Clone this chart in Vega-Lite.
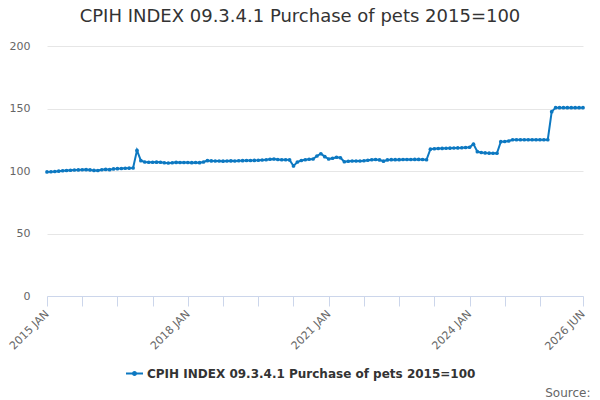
{
  "$schema": "https://vega.github.io/schema/vega-lite/v6.json",
  "width": 536,
  "height": 250,
  "autosize": {"type": "none"},
  "padding": {"left": 47, "top": 46, "right": 17, "bottom": 104},
  "background": "white",
  "title": {
    "text": "CPIH INDEX 09.3.4.1 Purchase of pets 2015=100",
    "font": "DejaVu Sans",
    "fontSize": 18,
    "fontWeight": "normal",
    "color": "#333333",
    "anchor": "middle",
    "dx": -15,
    "offset": 14
  },
  "data": {
    "values": [
      {"month": "2015 JAN", "value": 99.3}, {"month": "2015 FEB", "value": 99.4}, {"month": "2015 MAR", "value": 99.6},
      {"month": "2015 APR", "value": 99.9}, {"month": "2015 MAY", "value": 100.2}, {"month": "2015 JUN", "value": 100.4},
      {"month": "2015 JUL", "value": 100.6}, {"month": "2015 AUG", "value": 100.8}, {"month": "2015 SEP", "value": 100.9},
      {"month": "2015 OCT", "value": 101.0}, {"month": "2015 NOV", "value": 101.1}, {"month": "2015 DEC", "value": 100.9},
      {"month": "2016 JAN", "value": 100.5}, {"month": "2016 FEB", "value": 100.4}, {"month": "2016 MAR", "value": 101.0},
      {"month": "2016 APR", "value": 101.3}, {"month": "2016 MAY", "value": 101.1}, {"month": "2016 JUN", "value": 101.7},
      {"month": "2016 JUL", "value": 101.9}, {"month": "2016 AUG", "value": 102.0}, {"month": "2016 SEP", "value": 102.2},
      {"month": "2016 OCT", "value": 102.3}, {"month": "2016 NOV", "value": 102.4}, {"month": "2016 DEC", "value": 116.5},
      {"month": "2017 JAN", "value": 108.3}, {"month": "2017 FEB", "value": 107.2}, {"month": "2017 MAR", "value": 107.0},
      {"month": "2017 APR", "value": 107.0}, {"month": "2017 MAY", "value": 107.1}, {"month": "2017 JUN", "value": 107.0},
      {"month": "2017 JUL", "value": 106.6}, {"month": "2017 AUG", "value": 106.4}, {"month": "2017 SEP", "value": 106.6},
      {"month": "2017 OCT", "value": 106.9}, {"month": "2017 NOV", "value": 106.8}, {"month": "2017 DEC", "value": 106.8},
      {"month": "2018 JAN", "value": 106.8}, {"month": "2018 FEB", "value": 106.7}, {"month": "2018 MAR", "value": 106.8},
      {"month": "2018 APR", "value": 106.7}, {"month": "2018 MAY", "value": 107.2}, {"month": "2018 JUN", "value": 108.3},
      {"month": "2018 JUL", "value": 108.1}, {"month": "2018 AUG", "value": 108.0}, {"month": "2018 SEP", "value": 108.0},
      {"month": "2018 OCT", "value": 107.9}, {"month": "2018 NOV", "value": 108.0}, {"month": "2018 DEC", "value": 108.1},
      {"month": "2019 JAN", "value": 108.0}, {"month": "2019 FEB", "value": 108.2}, {"month": "2019 MAR", "value": 108.3},
      {"month": "2019 APR", "value": 108.4}, {"month": "2019 MAY", "value": 108.4}, {"month": "2019 JUN", "value": 108.5},
      {"month": "2019 JUL", "value": 108.6}, {"month": "2019 AUG", "value": 108.8}, {"month": "2019 SEP", "value": 109.0},
      {"month": "2019 OCT", "value": 109.4}, {"month": "2019 NOV", "value": 109.6}, {"month": "2019 DEC", "value": 109.2},
      {"month": "2020 JAN", "value": 109.0}, {"month": "2020 FEB", "value": 109.0}, {"month": "2020 MAR", "value": 108.9},
      {"month": "2020 APR", "value": 104.0}, {"month": "2020 MAY", "value": 107.2}, {"month": "2020 JUN", "value": 108.4},
      {"month": "2020 JUL", "value": 109.0}, {"month": "2020 AUG", "value": 109.4}, {"month": "2020 SEP", "value": 109.6},
      {"month": "2020 OCT", "value": 112.0}, {"month": "2020 NOV", "value": 113.8}, {"month": "2020 DEC", "value": 111.5},
      {"month": "2021 JAN", "value": 109.6}, {"month": "2021 FEB", "value": 110.2}, {"month": "2021 MAR", "value": 111.0},
      {"month": "2021 APR", "value": 110.6}, {"month": "2021 MAY", "value": 107.4}, {"month": "2021 JUN", "value": 107.8},
      {"month": "2021 JUL", "value": 108.0}, {"month": "2021 AUG", "value": 108.0}, {"month": "2021 SEP", "value": 108.0},
      {"month": "2021 OCT", "value": 108.2}, {"month": "2021 NOV", "value": 108.6}, {"month": "2021 DEC", "value": 109.0},
      {"month": "2022 JAN", "value": 109.2}, {"month": "2022 FEB", "value": 108.9}, {"month": "2022 MAR", "value": 107.9},
      {"month": "2022 APR", "value": 108.9}, {"month": "2022 MAY", "value": 109.1}, {"month": "2022 JUN", "value": 109.1},
      {"month": "2022 JUL", "value": 109.1}, {"month": "2022 AUG", "value": 109.2}, {"month": "2022 SEP", "value": 109.2},
      {"month": "2022 OCT", "value": 109.2}, {"month": "2022 NOV", "value": 109.3}, {"month": "2022 DEC", "value": 109.3},
      {"month": "2023 JAN", "value": 109.2}, {"month": "2023 FEB", "value": 109.0}, {"month": "2023 MAR", "value": 117.5},
      {"month": "2023 APR", "value": 117.8}, {"month": "2023 MAY", "value": 118.0}, {"month": "2023 JUN", "value": 118.1},
      {"month": "2023 JUL", "value": 118.2}, {"month": "2023 AUG", "value": 118.3}, {"month": "2023 SEP", "value": 118.4},
      {"month": "2023 OCT", "value": 118.5}, {"month": "2023 NOV", "value": 118.6}, {"month": "2023 DEC", "value": 118.8},
      {"month": "2024 JAN", "value": 119.0}, {"month": "2024 FEB", "value": 121.5}, {"month": "2024 MAR", "value": 115.5},
      {"month": "2024 APR", "value": 114.8}, {"month": "2024 MAY", "value": 114.5}, {"month": "2024 JUN", "value": 114.3},
      {"month": "2024 JUL", "value": 114.2}, {"month": "2024 AUG", "value": 114.2}, {"month": "2024 SEP", "value": 123.5},
      {"month": "2024 OCT", "value": 123.6}, {"month": "2024 NOV", "value": 124.0}, {"month": "2024 DEC", "value": 125.0},
      {"month": "2025 JAN", "value": 125.0}, {"month": "2025 FEB", "value": 125.0}, {"month": "2025 MAR", "value": 125.0},
      {"month": "2025 APR", "value": 125.0}, {"month": "2025 MAY", "value": 125.0}, {"month": "2025 JUN", "value": 125.0},
      {"month": "2025 JUL", "value": 125.0}, {"month": "2025 AUG", "value": 125.0}, {"month": "2025 SEP", "value": 125.0},
      {"month": "2025 OCT", "value": 147.5}, {"month": "2025 NOV", "value": 150.7}, {"month": "2025 DEC", "value": 150.7},
      {"month": "2026 JAN", "value": 150.7}, {"month": "2026 FEB", "value": 150.7}, {"month": "2026 MAR", "value": 150.7},
      {"month": "2026 APR", "value": 150.7}, {"month": "2026 MAY", "value": 150.7}, {"month": "2026 JUN", "value": 150.7}
    ]
  },
  "encoding": {
    "x": {
      "field": "month",
      "type": "ordinal",
      "sort": null,
      "scale": {"type": "point", "padding": 0},
      "title": "Source:",
      "axis": {
        "values": ["2015 JAN", "2015 OCT", "2016 JUL", "2017 APR", "2018 JAN", "2018 OCT", "2019 JUL", "2020 APR",
                   "2021 JAN", "2021 OCT", "2022 JUL", "2023 APR", "2024 JAN", "2024 OCT", "2025 JUL", "2026 JUN"],
        "labelExpr": "indexof(['2015 JAN', '2018 JAN', '2021 JAN', '2024 JAN', '2026 JUN'], datum.value) >= 0 ? datum.value : ''",
        "labelAngle": -45,
        "labelAlign": "right",
        "labelBaseline": "middle",
        "labelFont": "DejaVu Sans",
        "labelFontSize": 11,
        "labelColor": "#666666",
        "labelPadding": 6,
        "labelOverlap": false,
        "domainColor": "#ccd6eb",
        "tickColor": "#ccd6eb",
        "tickSize": 10,
        "grid": false,
        "titleFont": "DejaVu Sans",
        "titleFontSize": 12,
        "titleFontWeight": "normal",
        "titleColor": "#666666",
        "titleAnchor": "end",
        "titleAlign": "right",
        "titleBaseline": "middle",
        "titleX": 543,
        "titleY": 96
      }
    },
    "y": {
      "field": "value",
      "type": "quantitative",
      "title": null,
      "scale": {"domain": [0, 200]},
      "axis": {
        "values": [0, 50, 100, 150, 200],
        "labelFont": "DejaVu Sans",
        "labelFontSize": 11,
        "labelColor": "#666666",
        "labelPadding": 17,
        "ticks": false,
        "domain": false,
        "gridColor": "#e6e6e6"
      }
    }
  },
  "layer": [
    {
      "mark": {"type": "line", "strokeWidth": 2},
      "encoding": {
        "color": {
          "datum": "CPIH INDEX 09.3.4.1 Purchase of pets 2015=100",
          "type": "nominal",
          "scale": {"range": ["#0c78c1"]},
          "legend": {
            "title": null,
            "orient": "none",
            "legendX": 79,
            "legendY": 319,
            "labelFont": "DejaVu Sans",
            "labelFontSize": 12,
            "labelFontWeight": "bold",
            "labelColor": "#333333",
            "labelLimit": 0,
            "symbolType": "M-1,-0.12L1,-0.12L1,0.12L-1,0.12Z M0.3,0A0.3,0.3 0 1 1 -0.3,0A0.3,0.3 0 1 1 0.3,0Z",
            "symbolSize": 289,
            "symbolFillColor": "#0c78c1",
            "symbolStrokeWidth": 0
          }
        }
      }
    },
    {
      "mark": {"type": "point", "filled": true, "size": 14, "opacity": 1, "color": "#0c78c1"}
    }
  ],
  "config": {
    "view": {"stroke": null},
    "font": "DejaVu Sans"
  }
}
